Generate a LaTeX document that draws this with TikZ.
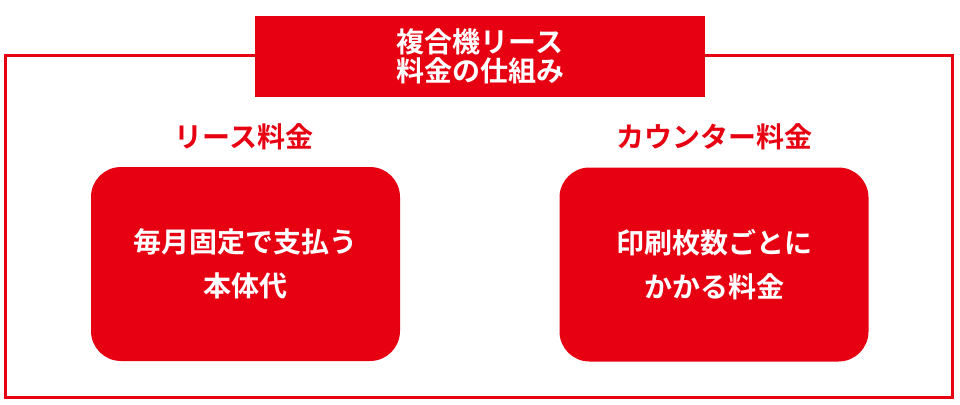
\documentclass[tikz,border=0pt]{standalone}
\usepackage{fontspec}
\setmainfont{Noto Sans CJK JP}[BoldFont={Noto Sans CJK JP Bold}]
\definecolor{leasered}{RGB}{230,0,18}
\begin{document}
\begin{tikzpicture}[x=1pt, y=-1pt, font=\bfseries,
        titlebox/.style={fill=leasered, text=white, minimum width=450pt, minimum height=81pt, inner sep=0pt, align=center, font=\bfseries\fontsize{28}{29}\selectfont},
        feebox/.style={fill=leasered, text=white, rounded corners=30pt, minimum width=309pt, minimum height=194pt, inner sep=0pt, align=center, font=\bfseries\fontsize{28}{44}\selectfont},
        feelabel/.style={text=leasered, inner sep=0pt, font=\bfseries\fontsize{28}{30}\selectfont}]
                \useasboundingbox (0, 0) rectangle (960, 404);
                % Frame
                \draw[leasered, line width=3pt] (5.5, 56) rectangle (952.5, 397);

                % Nodes
                \node[titlebox] at (480, 56.5) (title) {複合機リース\\料金の仕組み};
                \node[feelabel] at (244, 137) (leaselabel) {リース料金};
                \node[feelabel] at (714, 137) (counterlabel) {カウンター料金};
                \node[feebox] at (245.5, 264) (leasebox) {毎月固定で支払う\\本体代};
                \node[feebox] at (714, 264.5) (counterbox) {印刷枚数ごとに\\かかる料金};
            \end{tikzpicture}
\end{document}
